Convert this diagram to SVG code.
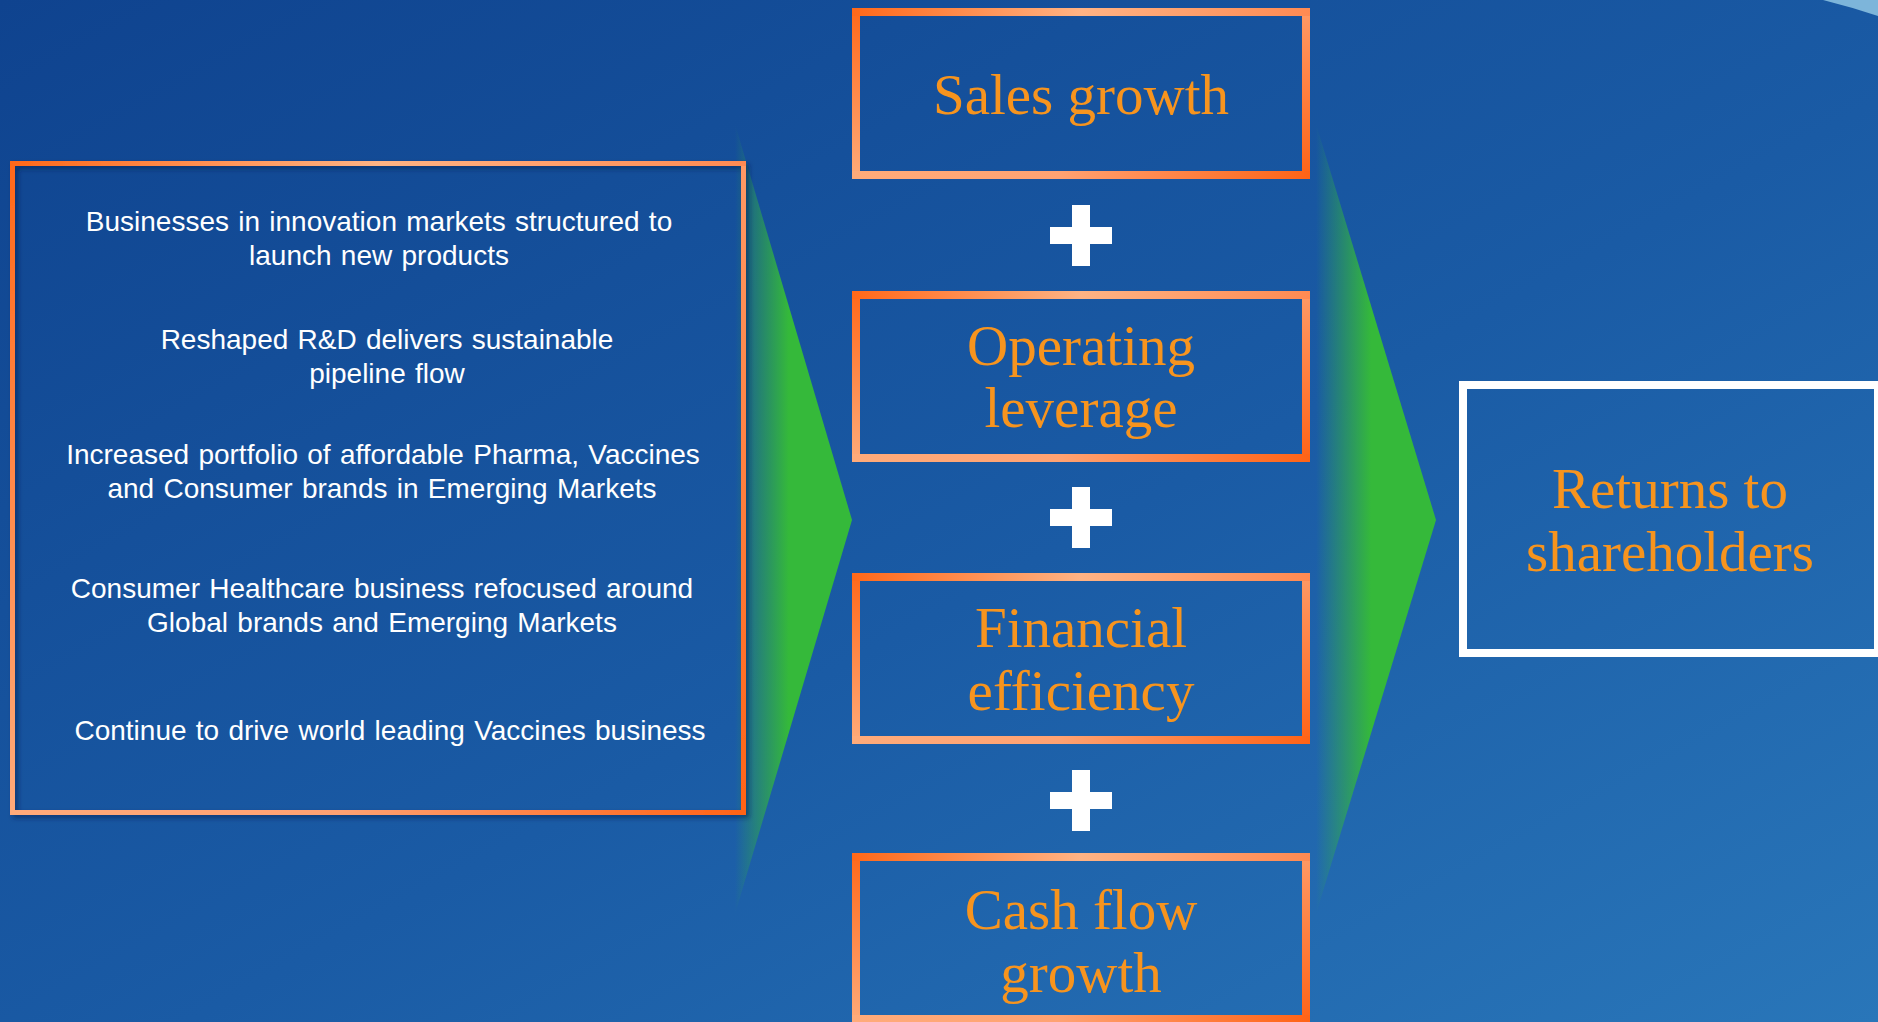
<svg xmlns="http://www.w3.org/2000/svg" width="1878" height="1022" viewBox="0 0 1878 1022">
  <defs>
    <linearGradient id="bg" x1="0" y1="0" x2="1" y2="1">
      <stop offset="0" stop-color="#0F438F"/>
      <stop offset="0.55" stop-color="#1A5BA5"/>
      <stop offset="1" stop-color="#2976B9"/>
    </linearGradient>
    <!-- border strip gradients, shared by all orange-framed boxes -->
    <linearGradient id="edgeTop" x1="0" y1="0" x2="1" y2="0">
      <stop offset="0" stop-color="#FF6819"/>
      <stop offset="0.5" stop-color="#FFB384"/>
      <stop offset="1" stop-color="#FF8A52"/>
    </linearGradient>
    <linearGradient id="edgeBottom" x1="0" y1="0" x2="1" y2="0">
      <stop offset="0" stop-color="#FFAB7A"/>
      <stop offset="0.45" stop-color="#FFA272"/>
      <stop offset="1" stop-color="#FF6316"/>
    </linearGradient>
    <linearGradient id="edgeLeft" x1="0" y1="0" x2="0" y2="1">
      <stop offset="0" stop-color="#FF6819"/>
      <stop offset="1" stop-color="#FFAB7A"/>
    </linearGradient>
    <linearGradient id="edgeRight" x1="0" y1="0" x2="0" y2="1">
      <stop offset="0" stop-color="#FF9A66"/>
      <stop offset="1" stop-color="#FF6316"/>
    </linearGradient>
    <linearGradient id="chevronFill" x1="0" y1="0" x2="1" y2="0">
      <stop offset="0" stop-color="#35B93A" stop-opacity="0"/>
      <stop offset="0.46" stop-color="#35B93A" stop-opacity="1"/>
      <stop offset="1" stop-color="#35B93A" stop-opacity="1"/>
    </linearGradient>
    <filter id="shadow" x="-5%" y="-5%" width="110%" height="110%">
      <feDropShadow dx="3" dy="3" stdDeviation="2.5" flood-color="#05204a" flood-opacity="0.55"/>
    </filter>
  </defs>
  <style>
    .et { fill: url(#edgeTop); }
    .eb { fill: url(#edgeBottom); }
    .el { fill: url(#edgeLeft); }
    .er { fill: url(#edgeRight); }
    .chev { fill: url(#chevronFill); }
    .plus { fill: #FFFFFF; }
    .body { font-family: "Liberation Sans", Arial, sans-serif; font-size: 28px; word-spacing: 1.5px; fill: #FFFFFF; text-anchor: middle; }
    .head { font-family: "Liberation Serif", "Times New Roman", serif; font-size: 57px; fill: #F7941E; text-anchor: middle; }
  </style>

  <!-- backdrop -->
  <rect x="0" y="0" width="1878" height="1022" fill="url(#bg)"/>
  <path d="M1823,0 Q1851,7 1878,16 L1878,0 Z" fill="#7DB5DA"/>

  <!-- flow arrows and plus operators -->
  <g id="connectors">
    <polygon class="chev" points="735,124 852,520 735,914"/>
    <polygon class="chev" points="1316,124 1436,520 1316,914"/>
    <g id="plus-1"><rect class="plus" x="1050" y="227" width="62" height="17"/><rect class="plus" x="1072" y="205" width="18" height="61"/></g>
    <g id="plus-2"><rect class="plus" x="1050" y="509" width="62" height="17"/><rect class="plus" x="1072" y="487" width="18" height="61"/></g>
    <g id="plus-3"><rect class="plus" x="1050" y="792" width="62" height="17"/><rect class="plus" x="1072" y="770" width="18" height="61"/></g>
  </g>

  <!-- strategic priorities -->
  <g id="priorities">
    <g filter="url(#shadow)">
      <rect class="el" x="10" y="161" width="5" height="654"/>
      <rect class="er" x="741" y="161" width="5" height="654"/>
      <rect class="et" x="10" y="161" width="736" height="5"/>
      <rect class="eb" x="10" y="810" width="736" height="5"/>
    </g>
    <text class="body" x="379" y="231">Businesses in innovation markets structured to</text>
    <text class="body" x="379" y="265">launch new products</text>
    <text class="body" x="387" y="349">Reshaped R&amp;D delivers sustainable</text>
    <text class="body" x="387" y="383">pipeline flow</text>
    <text class="body" x="383" y="464">Increased portfolio of affordable Pharma, Vaccines</text>
    <text class="body" x="382" y="498">and Consumer brands in Emerging Markets</text>
    <text class="body" x="382" y="598">Consumer Healthcare business refocused around</text>
    <text class="body" x="382" y="632">Global brands and Emerging Markets</text>
    <text class="body" x="390" y="740">Continue to drive world leading Vaccines business</text>
  </g>

  <!-- value drivers -->
  <g id="sales-growth">
    <rect class="el" x="852" y="8" width="8" height="171"/>
    <rect class="er" x="1302" y="8" width="8" height="171"/>
    <rect class="et" x="852" y="8" width="458" height="8"/>
    <rect class="eb" x="852" y="171" width="458" height="8"/>
    <text class="head" x="1081" y="114">Sales growth</text>
  </g>
  <g id="operating-leverage">
    <rect class="el" x="852" y="291" width="8" height="171"/>
    <rect class="er" x="1302" y="291" width="8" height="171"/>
    <rect class="et" x="852" y="291" width="458" height="8"/>
    <rect class="eb" x="852" y="454" width="458" height="8"/>
    <text class="head" x="1081" y="365">Operating</text>
    <text class="head" x="1081" y="427">leverage</text>
  </g>
  <g id="financial-efficiency">
    <rect class="el" x="852" y="573" width="8" height="171"/>
    <rect class="er" x="1302" y="573" width="8" height="171"/>
    <rect class="et" x="852" y="573" width="458" height="8"/>
    <rect class="eb" x="852" y="736" width="458" height="8"/>
    <text class="head" x="1081" y="647">Financial</text>
    <text class="head" x="1081" y="710">efficiency</text>
  </g>
  <g id="cash-flow-growth">
    <rect class="el" x="852" y="853" width="8" height="171"/>
    <rect class="er" x="1302" y="853" width="8" height="171"/>
    <rect class="et" x="852" y="853" width="458" height="8"/>
    <rect class="eb" x="852" y="1015" width="458" height="8"/>
    <text class="head" x="1081" y="929">Cash flow</text>
    <text class="head" x="1081" y="992">growth</text>
  </g>

  <!-- outcome -->
  <g id="returns-to-shareholders">
    <rect x="1463" y="385" width="415" height="268" fill="none" stroke="#FFFFFF" stroke-width="8"/>
    <text class="head" x="1670" y="508">Returns to</text>
    <text class="head" x="1670" y="571">shareholders</text>
  </g>
</svg>
